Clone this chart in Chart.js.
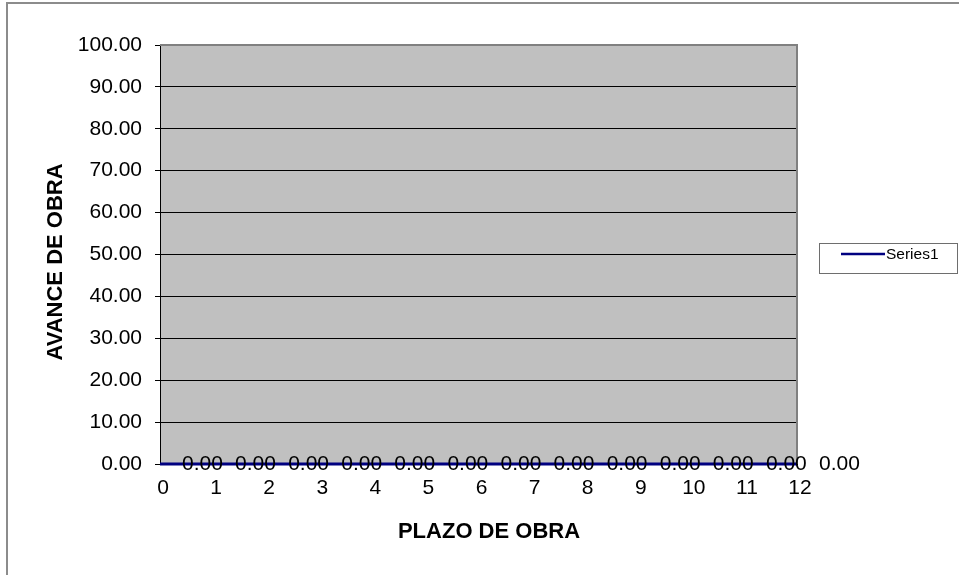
<!DOCTYPE html>
<html>
<head>
<meta charset="utf-8">
<script src="https://cdn.jsdelivr.net/npm/chart.js@4.4.0/dist/chart.umd.min.js"></script>
<style>
  html, body { margin: 0; padding: 0; background: #fff; }
  #wrap { width: 959px; height: 575px; position: relative; }
</style>
</head>
<body>
<div id="wrap"><canvas id="chart" width="959" height="575"></canvas></div>
<script>
// datos del gráfico
const plazo = [0, 1, 2, 3, 4, 5, 6, 7, 8, 9, 10, 11, 12];
const avance = [0, 0, 0, 0, 0, 0, 0, 0, 0, 0, 0, 0, 0];
const serieNombre = 'Series1';
const tituloX = 'PLAZO DE OBRA';
const tituloY = 'AVANCE DE OBRA';
const yMin = 0, yMax = 100, yPaso = 10;

const FONT = '"Liberation Sans", Arial, sans-serif';

// fondo gris del área de trazado + marco exterior
const fondoPlugin = {
  id: 'fondo',
  beforeDraw(chart) {
    const { ctx, chartArea: a } = chart;
    ctx.save();
    ctx.fillStyle = '#fff';
    ctx.fillRect(0, 0, chart.width, chart.height);
    ctx.strokeStyle = '#8c8c8c';
    ctx.lineWidth = 2;
    ctx.beginPath();
    ctx.moveTo(7, chart.height + 5);
    ctx.lineTo(7, 3);
    ctx.lineTo(chart.width + 5, 3);
    ctx.stroke();
    ctx.fillStyle = '#c0c0c0';
    ctx.fillRect(a.left, a.top, a.right - a.left, a.bottom - a.top);
    ctx.restore();
  },
  beforeDatasetsDraw(chart) {
    const { ctx, chartArea: a } = chart;
    ctx.save();
    ctx.strokeStyle = '#808080';
    ctx.lineWidth = 2;
    ctx.beginPath();
    ctx.moveTo(a.left, a.top);
    ctx.lineTo(a.right, a.top);
    ctx.lineTo(a.right, a.bottom);
    ctx.stroke();
    ctx.restore();
  }
};

// etiquetas de datos a la derecha de cada punto
const etiquetasPlugin = {
  id: 'etiquetas',
  afterDatasetsDraw(chart) {
    const { ctx } = chart;
    const meta = chart.getDatasetMeta(0);
    ctx.save();
    ctx.font = '21px ' + FONT;
    ctx.fillStyle = '#000';
    ctx.textAlign = 'left';
    ctx.textBaseline = 'middle';
    meta.data.forEach((p, i) => {
      ctx.fillText(avance[i].toFixed(2), p.x + 22, p.y);
    });
    ctx.restore();
  }
};

// títulos de ejes y leyenda
const textosPlugin = {
  id: 'textos',
  afterDraw(chart) {
    const { ctx } = chart;
    ctx.save();
    ctx.fillStyle = '#000';
    ctx.font = 'bold 22px ' + FONT;
    ctx.textAlign = 'center';
    ctx.textBaseline = 'middle';
    ctx.fillText(tituloX, 489, 532);
    ctx.translate(56, 262);
    ctx.rotate(-Math.PI / 2);
    ctx.fillText(tituloY, 0, 0);
    ctx.restore();

    // leyenda
    ctx.save();
    ctx.strokeStyle = '#6e6e6e';
    ctx.lineWidth = 1;
    ctx.strokeRect(819.5, 243.5, 138, 30);
    ctx.strokeStyle = chart.data.datasets[0].borderColor;
    ctx.lineWidth = 2.5;
    ctx.beginPath();
    ctx.moveTo(841, 254);
    ctx.lineTo(885, 254);
    ctx.stroke();
    ctx.fillStyle = '#000';
    ctx.font = '15.5px ' + FONT;
    ctx.textAlign = 'left';
    ctx.textBaseline = 'middle';
    ctx.fillText(chart.data.datasets[0].label, 886, 255);
    ctx.restore();
  }
};

new Chart(document.getElementById('chart'), {
  type: 'line',
  data: {
    datasets: [{
      label: serieNombre,
      data: plazo.map((x, i) => ({ x: x, y: avance[i] })),
      borderColor: '#000080',
      borderWidth: 3,
      pointRadius: 0,
      tension: 0,
      clip: false
    }]
  },
  options: {
    responsive: false,
    animation: false,
    layout: { padding: { top: 45, right: 162, bottom: 0, left: 0 } },
    plugins: {
      legend: { display: false },
      tooltip: { enabled: false }
    },
    scales: {
      x: {
        type: 'linear',
        min: plazo[0],
        max: plazo[plazo.length - 1],
        afterFit: s => { s.height = 111; },
        grid: { display: false, drawTicks: false },
        border: { display: true, color: '#000', width: 1 },
        ticks: {
          stepSize: 1,
          padding: 12,
          labelOffset: 3,
          color: '#000',
          font: { size: 21, family: FONT },
          maxRotation: 0,
          autoSkip: false
        }
      },
      y: {
        min: yMin,
        max: yMax,
        afterFit: s => { s.width = 160; },
        grid: { color: '#000', lineWidth: 1, tickLength: 5, tickColor: '#000' },
        border: { display: true, color: '#000', width: 1 },
        ticks: {
          stepSize: yPaso,
          padding: 13,
          color: '#000',
          font: { size: 21, family: FONT },
          callback: v => v.toFixed(2)
        }
      }
    }
  },
  plugins: [fondoPlugin, etiquetasPlugin, textosPlugin]
});
</script>
</body>
</html>
